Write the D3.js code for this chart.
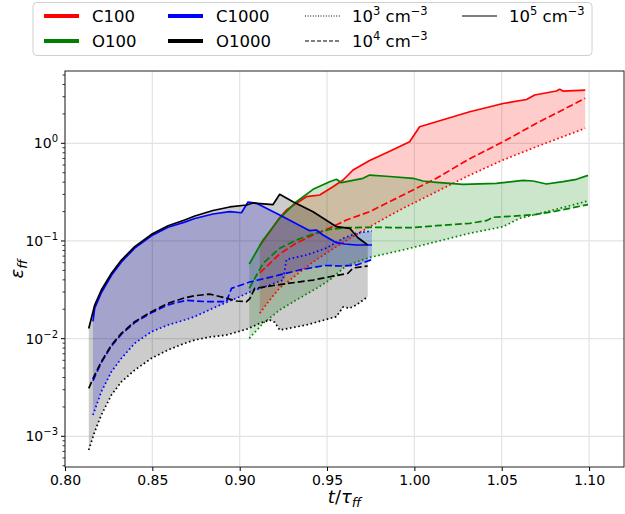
<!DOCTYPE html>
<html>
<head>
<meta charset="utf-8">
<script src="https://cdn.jsdelivr.net/npm/d3@7"></script>
<style>
body { margin: 0; background: #fff; }
svg { font-family: "DejaVu Sans", sans-serif; }
</style>
</head>
<body>
<svg width="625" height="514"></svg>
<script>
// values: [t/tau_ff, eps_ff]
const c100_n5 = [[0.9115,0.090],[0.9172,0.124],[0.9229,0.1738],[0.9268,0.2075],[0.9325,0.2431],[0.9382,0.284],[0.9458,0.2958],[0.9534,0.3597],[0.9592,0.4209],[0.9649,0.533],[0.9744,0.667],[0.9859,0.830],[0.9973,1.038],[1.0030,1.479],[1.0126,1.664],[1.0317,2.106],[1.0508,2.555],[1.0642,2.808],[1.0689,3.125],[1.0813,3.43],[1.0832,3.57],[1.0851,3.43],[1.0978,3.51]];
const c100_n4 = [[0.9115,0.0470],[0.9229,0.0736],[0.9325,0.0953],[0.9420,0.1151],[0.9515,0.1358],[0.9611,0.164],[0.9744,0.1994],[0.9935,0.2958],[1.0126,0.4383],[1.0317,0.696],[1.0508,1.038],[1.0699,1.602],[1.0978,2.89]];
const c100_n3 = [[0.9115,0.01817],[0.9172,0.0249],[0.9229,0.0330],[0.9325,0.0450],[0.9420,0.0610],[0.9515,0.0790],[0.9611,0.1010],[0.9744,0.140],[0.9935,0.216],[1.0126,0.319],[1.0317,0.473],[1.0508,0.675],[1.0699,0.923],[1.0978,1.425]];

const o100_n5 = [[0.9055,0.0581],[0.9134,0.1023],[0.9229,0.1706],[0.9325,0.2524],[0.9420,0.338],[0.9515,0.4046],[0.9554,0.428],[0.9582,0.395],[0.9706,0.4383],[0.9744,0.473],[0.9859,0.457],[0.9992,0.4383],[1.0050,0.411],[1.0126,0.399],[1.0279,0.380],[1.0470,0.389],[1.0622,0.418],[1.0679,0.411],[1.0756,0.383],[1.0851,0.4046],[1.0928,0.428],[1.0994,0.470]];
const o100_n4 = [[0.9055,0.0327],[0.9134,0.0590],[0.9229,0.0841],[0.9325,0.1023],[0.9420,0.1178],[0.9515,0.1316],[0.9611,0.1367],[0.9744,0.138],[0.9973,0.1367],[1.0126,0.1433],[1.0317,0.1517],[1.0413,0.1614],[1.0450,0.1747],[1.0603,0.1815],[1.0699,0.1875],[1.0794,0.1994],[1.0889,0.2160],[1.0994,0.236]];
const o100_n3 = [[0.9055,0.01007],[0.9134,0.01436],[0.9229,0.01965],[0.9325,0.0249],[0.9439,0.0327],[0.9515,0.0398],[0.9611,0.0560],[0.9744,0.0678],[0.9935,0.0809],[1.0126,0.0984],[1.0317,0.1199],[1.0508,0.140],[1.0603,0.1706],[1.0699,0.1875],[1.0794,0.2075],[1.0889,0.2297],[1.0994,0.2577]];

const c1000_n5 = [[0.8160,0.0150],[0.8170,0.0205],[0.8208,0.0295],[0.8266,0.0445],[0.8323,0.0610],[0.8399,0.0845],[0.8495,0.113],[0.8590,0.138],[0.8685,0.156],[0.8743,0.170],[0.8847,0.189],[0.8943,0.1994],[0.9010,0.1946],[0.9048,0.2506],[0.9096,0.2431],[0.9229,0.1845],[0.9401,0.1274],[0.9439,0.1295],[0.9477,0.1150],[0.9554,0.0960],[0.9601,0.0931],[0.9668,0.0910],[0.9757,0.0910]];
const c1000_n4 = [[0.8160,0.0037],[0.8208,0.0057],[0.8266,0.0084],[0.8323,0.0111],[0.8399,0.0146],[0.8495,0.0184],[0.8590,0.0222],[0.8695,0.0247],[0.8810,0.0239],[0.8924,0.0239],[0.8953,0.0327],[0.9057,0.0380],[0.9229,0.0449],[0.9343,0.0505],[0.9487,0.0561],[0.9592,0.0554],[0.9670,0.0568],[0.9757,0.0646]];
const c1000_n3 = [[0.8160,0.00165],[0.8208,0.00286],[0.8266,0.00459],[0.8323,0.00629],[0.8399,0.00896],[0.8495,0.01178],[0.8590,0.0138],[0.8685,0.01552],[0.8743,0.0168],[0.8847,0.0205],[0.8924,0.0235],[0.9000,0.0268],[0.9057,0.0300],[0.9172,0.0354],[0.9248,0.0398],[0.9268,0.0646],[0.9382,0.0718],[0.9497,0.0847],[0.9592,0.1065],[0.9668,0.1199],[0.9757,0.1271]];

const o1000_n5 = [[0.8136,0.0127],[0.8170,0.0221],[0.8208,0.0315],[0.8266,0.0467],[0.8323,0.0638],[0.8399,0.0874],[0.8495,0.117],[0.8590,0.1433],[0.8685,0.164],[0.8743,0.180],[0.8847,0.205],[0.8943,0.223],[0.9039,0.2335],[0.9076,0.245],[0.9191,0.236],[0.9229,0.3006],[0.9305,0.2524],[0.9420,0.1994],[0.9554,0.140],[0.9630,0.1348],[0.9677,0.1080],[0.9733,0.0910]];
const o1000_n4 = [[0.8136,0.0031],[0.8170,0.00425],[0.8208,0.00581],[0.8266,0.00861],[0.8323,0.01135],[0.8399,0.0149],[0.8495,0.0189],[0.8590,0.0230],[0.8685,0.0262],[0.8743,0.0275],[0.8828,0.0286],[0.8905,0.0265],[0.8981,0.0243],[0.9039,0.0239],[0.9057,0.0255],[0.9086,0.0327],[0.9229,0.0358],[0.9420,0.0398],[0.9554,0.0443],[0.9620,0.0467],[0.9649,0.0529],[0.9733,0.0554]];
const o1000_n3 = [[0.8136,0.000724],[0.8170,0.001114],[0.8208,0.00165],[0.8266,0.00265],[0.8323,0.00362],[0.8399,0.00477],[0.8495,0.00629],[0.8590,0.00766],[0.8685,0.00896],[0.8743,0.00969],[0.8830,0.0104],[0.8924,0.01089],[0.9039,0.01247],[0.9115,0.01436],[0.9172,0.01552],[0.9201,0.0147],[0.9229,0.01226],[0.9382,0.0138],[0.9554,0.0168],[0.9592,0.0211],[0.9630,0.0205],[0.9668,0.0221],[0.9733,0.0269]];

const models = ["C100", "O100", "C1000", "O1000"];
const modelColors = ["red", "green", "blue", "black"];
const modelCurves = [[c100_n3, c100_n4, c100_n5], [o100_n3, o100_n4, o100_n5], [c1000_n3, c1000_n4, c1000_n5], [o1000_n3, o1000_n4, o1000_n5]];
const densityExp = ["3", "4", "5"];
const densityDash = ["1.6,2.6", "7,3", null];
const xTicks = [0.80, 0.85, 0.90, 0.95, 1.00, 1.05, 1.10];
const yTicks = [1e-3, 1e-2, 1e-1, 1];

const svg = d3.select("svg");
const pLeft = 65, pRight = 624, pTop = 71, pBottom = 467;

const x = d3.scaleLinear().domain([0.8, 1.12]).range([pLeft, pRight]);
const y = d3.scaleLog().domain([4.85e-4, 5.5]).range([pBottom, pTop]);

// grid
svg.append("g").selectAll("line").data(xTicks).enter().append("line")
  .attr("x1", d => x(d)).attr("x2", d => x(d)).attr("y1", pTop).attr("y2", pBottom)
  .attr("stroke", "#e3e3e3").attr("stroke-width", 1.2);
svg.append("g").selectAll("line").data(yTicks).enter().append("line")
  .attr("x1", pLeft).attr("x2", pRight).attr("y1", d => y(d)).attr("y2", d => y(d))
  .attr("stroke", "#e3e3e3").attr("stroke-width", 1.2);

svg.append("clipPath").attr("id", "clip").append("rect")
  .attr("x", pLeft).attr("y", pTop).attr("width", pRight - pLeft).attr("height", pBottom - pTop);
const plot = svg.append("g").attr("clip-path", "url(#clip)");

// value of a curve at t, linear in log space
function valueAt(curve, t) {
  if (t < curve[0][0] || t > curve[curve.length - 1][0]) return null;
  for (let i = 1; i < curve.length; i++) {
    if (t <= curve[i][0]) {
      const a = curve[i - 1], b = curve[i];
      const f = b[0] === a[0] ? 0 : (t - a[0]) / (b[0] - a[0]);
      return Math.pow(10, Math.log10(a[1]) + f * (Math.log10(b[1]) - Math.log10(a[1])));
    }
  }
  return curve[curve.length - 1][1];
}

const area = d3.area().x(d => x(d.t)).y0(d => y(d.lo)).y1(d => y(d.hi));
const line = d3.line().x(d => x(d[0])).y(d => y(d[1]));

modelCurves.forEach((curves, m) => {
  const ts = Array.from(new Set(curves.flatMap(c => c.map(p => p[0])))).sort((a, b) => a - b);
  const env = ts.map(t => {
    const v = curves.map(c => valueAt(c, t)).filter(v => v !== null);
    return {t: t, lo: d3.min(v), hi: d3.max(v)};
  });
  plot.append("path").datum(env).attr("d", area)
    .attr("fill", modelColors[m]).attr("fill-opacity", 0.2);
});

modelCurves.forEach((curves, m) => {
  curves.forEach((c, k) => {
    plot.append("path").datum(c).attr("d", line)
      .attr("fill", "none").attr("stroke", modelColors[m]).attr("stroke-width", 1.7)
      .attr("stroke-linejoin", "round")
      .attr("stroke-dasharray", densityDash[k]);
  });
});

// axes
const xAxis = d3.axisBottom(x).tickValues(xTicks).tickFormat(d3.format(".2f")).tickSize(4).tickPadding(4);
const gx = svg.append("g").attr("transform", "translate(0," + pBottom + ")").call(xAxis);
gx.selectAll("text").attr("font-size", 14).attr("font-family", "DejaVu Sans").attr("fill", "#000");
gx.select(".domain").remove();

const minor = [];
for (let d = -4; d <= 0; d++) for (let k = 2; k <= 9; k++) {
  const v = k * Math.pow(10, d);
  if (v >= y.domain()[0] && v <= y.domain()[1]) minor.push(v);
}
svg.append("g").selectAll("line").data(minor).enter().append("line")
  .attr("x1", pLeft - 2.5).attr("x2", pLeft).attr("y1", d => y(d)).attr("y2", d => y(d))
  .attr("stroke", "#000").attr("stroke-width", 0.8);
svg.append("g").selectAll("line").data(yTicks).enter().append("line")
  .attr("x1", pLeft - 4).attr("x2", pLeft).attr("y1", d => y(d)).attr("y2", d => y(d))
  .attr("stroke", "#000").attr("stroke-width", 1);

const ylab = svg.append("g").selectAll("text").data(yTicks).enter().append("text")
  .attr("x", pLeft - 7).attr("y", d => y(d) + 5).attr("text-anchor", "end").attr("font-size", 14);
ylab.append("tspan").text("10");
ylab.append("tspan").attr("dy", -6).attr("font-size", 10).text(d => d === 1 ? "0" : "\u2212" + Math.round(-Math.log10(d)));

svg.append("rect").attr("x", pLeft).attr("y", pTop).attr("width", pRight - pLeft).attr("height", pBottom - pTop)
  .attr("fill", "none").attr("stroke", "#222").attr("stroke-width", 1);

// axis labels
const xl = svg.append("text").attr("x", (pLeft + pRight) / 2).attr("y", 503).attr("text-anchor", "middle").attr("font-size", 18);
xl.append("tspan").attr("font-style", "italic").text("t");
xl.append("tspan").text("/");
xl.append("tspan").attr("font-style", "italic").text("\u03c4");
xl.append("tspan").attr("font-style", "italic").attr("font-size", 13).attr("dy", 4).text("ff");

const yl = svg.append("text").attr("transform", "translate(23," + ((pTop + pBottom) / 2) + ") rotate(-90)")
  .attr("text-anchor", "middle").attr("font-size", 18);
yl.append("tspan").attr("font-style", "italic").text("\u03b5");
yl.append("tspan").attr("font-style", "italic").attr("font-size", 13).attr("dy", 4).text("ff");

// legend
svg.append("rect").attr("x", 33).attr("y", 2.5).attr("width", 559).attr("height", 53).attr("rx", 4)
  .attr("fill", "#fff").attr("fill-opacity", 0.8).attr("stroke", "#d0d0d0");
const colX = [44, 168, 305, 462];
const rowY = [16, 41];
models.forEach((name, i) => {
  const cx = colX[Math.floor(i / 2)], cy = rowY[i % 2];
  svg.append("line").attr("x1", cx).attr("x2", cx + 35).attr("y1", cy).attr("y2", cy)
    .attr("stroke", modelColors[i]).attr("stroke-width", 4);
  svg.append("text").attr("x", cx + 48).attr("y", cy + 6).attr("font-size", 16.5).text(name);
});
densityExp.forEach((e, i) => {
  const cx = colX[2 + Math.floor(i / 2)], cy = rowY[i % 2];
  svg.append("line").attr("x1", cx).attr("x2", cx + 35).attr("y1", cy).attr("y2", cy)
    .attr("stroke", "#000").attr("stroke-width", 1.2).attr("stroke-dasharray", densityDash[i] === null ? null : (i === 0 ? "1,1.6" : "4,2"));
  const t = svg.append("text").attr("x", cx + 47).attr("y", cy + 6).attr("font-size", 16.5);
  t.append("tspan").text("10");
  t.append("tspan").attr("dy", -7).attr("font-size", 11.5).text(e);
  t.append("tspan").attr("dy", 7).text(" cm");
  t.append("tspan").attr("dy", -7).attr("font-size", 11.5).text("\u22123");
});
</script>
</body>
</html>
